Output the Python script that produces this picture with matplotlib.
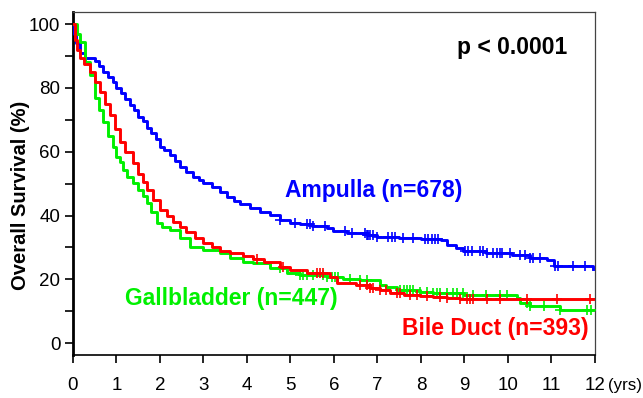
import numpy as np
import matplotlib
matplotlib.use('Agg')
import matplotlib.pyplot as plt
import matplotlib.transforms as mtransforms

plt.rcParams['font.family'] = ['Liberation Sans', 'DejaVu Sans']

# Kaplan-Meier knots (years, % surviving)
amp_t = [0, 0.03, 0.08, 0.15, 0.28, 0.5, 0.6, 0.7, 0.8, 0.92, 1.0, 1.1, 1.2, 1.31, 1.4,
         1.5, 1.6, 1.7, 1.8, 1.9, 2.0, 2.1, 2.23, 2.35, 2.46, 2.6, 2.75, 2.9, 3.0, 3.2,
         3.38, 3.54, 3.7, 3.84, 4.07, 4.3, 4.53, 4.76, 5.0, 5.22, 5.5, 5.84, 5.98, 6.3,
         6.76, 6.98, 7.5, 8.0, 8.47, 8.6, 8.8, 8.97, 9.5, 10.1, 10.5, 10.9, 11.05, 11.95]
amp_s = [100, 97, 94, 91, 89.3, 88.5, 87, 85, 83.5, 81.8, 80, 78.5, 76.5, 74.6, 73,
         71, 69.5, 67.4, 66, 64, 61.4, 60.5, 58.9, 57, 55.2, 53.5, 52.2, 51, 50.2, 48.8,
         47.5, 45.8, 44.5, 43.6, 42.3, 41, 40.1, 38.6, 37.8, 37.4, 36.8, 36.2, 35.2, 34.6,
         33.9, 33.4, 33.0, 32.6, 32.3, 30.7, 29.8, 28.8, 28.2, 27.6, 26.8, 26, 24.3, 23.3]
amp_cens = [4.76, 5.10, 5.38, 5.45, 5.52, 5.79, 6.25, 6.41, 6.71, 6.76, 6.78, 6.83, 6.90,
            6.99, 7.24, 7.33, 7.40, 7.59, 7.82, 8.09, 8.16, 8.25, 8.32, 8.39, 9.01, 9.08,
            9.17, 9.36, 9.43, 9.52, 9.66, 9.75, 9.82, 9.86, 10.05, 10.28, 10.39, 10.51,
            10.57, 10.74, 11.08, 11.15, 11.5, 11.77]

bile_t = [0, 0.04, 0.1, 0.16, 0.25, 0.39, 0.5, 0.62, 0.73, 0.85, 0.96, 1.08, 1.2, 1.38,
          1.5, 1.6, 1.7, 1.85, 2.0, 2.15, 2.3, 2.46, 2.6, 2.8, 2.99, 3.2, 3.38, 3.61, 3.9,
          4.14, 4.4, 4.76, 5.0, 5.38, 5.9, 6.07, 6.5, 6.83, 7.06, 7.29, 7.6, 7.98, 8.28,
          8.6, 8.9, 11.95]
bile_s = [100, 95, 92, 89.3, 87.5, 85, 82, 78.7, 75, 71.5, 67, 63, 60, 56.4,
          53, 50.5, 48, 45, 41.7, 40, 38, 36.4, 35, 33, 31.3, 30.3, 28.8, 28.2, 27.2,
          26.4, 25.5, 23.8, 22.8, 21.9, 20.7, 18.8, 18.2, 17.2, 16.6, 15.7, 15.2, 14.7, 14.4,
          14.1, 13.8, 13.8]
bile_cens = [4.23, 4.83, 5.6, 5.68, 5.75, 6.6, 6.76, 6.83, 6.9, 7.06, 7.2, 7.45, 7.52,
             7.75, 7.9, 8.14, 8.44, 8.6, 8.9, 9.06, 9.13, 9.2, 9.52, 9.82, 10.44, 11.13, 11.88]

gall_t = [0, 0.09, 0.16, 0.28, 0.39, 0.51, 0.6, 0.69, 0.8, 0.92, 1.0, 1.08, 1.15, 1.25,
          1.38, 1.5, 1.6, 1.7, 1.8, 1.93, 2.05, 2.23, 2.45, 2.69, 3.0, 3.38, 3.6, 3.91,
          4.14, 4.53, 4.92, 5.22, 5.84, 6.2, 6.6, 7.06, 7.2, 7.45, 7.98, 8.28, 9.0, 10.2,
          10.28, 10.5, 11.2, 11.95]
gall_s = [100, 97, 94.4, 88, 84, 76.8, 73, 69.3, 65, 61.4, 58.5, 56.7, 54.2, 52,
          50.2, 48, 46, 43.9, 41, 37.6, 36.5, 35.4, 33, 30.1, 29.2, 28.2, 26.8, 25.4,
          25, 23.5, 21.9, 21.3, 20.7, 20.2, 19.7, 18.2, 17.6, 16.6, 16, 15.7, 15, 14.1,
          12.5, 11.6, 10.3, 10.3]
gall_cens = [4.76, 5.22, 5.29, 5.38, 5.52, 5.75, 5.84, 5.95, 6.02, 6.09, 6.37, 6.6, 6.75,
             7.52, 7.6, 7.67, 7.75, 7.82, 7.98, 8.13, 8.28, 8.36, 8.44, 8.6, 8.74, 8.82,
             8.97, 9.2, 9.5, 9.82, 9.97, 10.44, 10.51, 10.82, 11.2, 11.82, 11.9]

groups = [('Ampulla (n=678)', amp_t, amp_s, amp_cens, '#0000ff', (6.92, 48)),
          ('Gallbladder (n=447)', gall_t, gall_s, gall_cens, '#00f000', (3.63, 14.1)),
          ('Bile Duct (n=393)', bile_t, bile_s, bile_cens, '#ff0000', (9.72, 4.7))]

fig = plt.figure(figsize=(6.43, 3.98), dpi=100)
ax = fig.add_axes([0.1135, 0.108, 0.8118, 0.862])

for name, t, s, cens, col, (lx, ly) in groups:
    t = np.array(t)
    s = np.array(s)
    ax.plot(t, s, drawstyle='steps-post', color=col, lw=2.1, zorder=3)
    c = np.array(cens)
    cy = s[np.searchsorted(t, c, side='right') - 1]
    ax.plot(c, cy, ls='none', marker='+', ms=7, mew=1.2, color=col, zorder=3)
    ax.text(lx, ly, name, color=col, fontsize=16.5, fontweight='bold',
            ha='center', va='center')

ax.text(10.1, 92.8, 'p < 0.0001', fontsize=16.5, fontweight='bold', ha='center', va='center')

ax.set_xlim(0, 12)
ax.set_ylim(-3.7, 103.8)
ax.set_xticks(range(0, 13))
ax.set_yticks(range(0, 101, 20))
ax.set_yticks(range(10, 100, 20), minor=True)
ax.tick_params(axis='both', which='both', direction='out', length=6, width=1.2,
               labelsize=13.5)
ax.tick_params(axis='x', pad=10)
ax.tick_params(axis='y', pad=3)
ax.set_ylabel('Overall Survival (%)', fontsize=14.5, fontweight='bold', labelpad=2)
ax.yaxis.set_label_coords(-0.083, 0.466)

ax.spines['left'].set_linewidth(2.0)
ax.spines['bottom'].set_linewidth(1.2)
for sp in ('top', 'right'):
    ax.spines[sp].set_linewidth(0.9)
    ax.spines[sp].set_color('#444444')

tr = mtransforms.blended_transform_factory(ax.transData, ax.transAxes)
ax.text(12.3, -0.0875, '(yrs)', transform=tr, fontsize=12.2, ha='left', va='center')

fig.savefig('out.png', dpi=100)
